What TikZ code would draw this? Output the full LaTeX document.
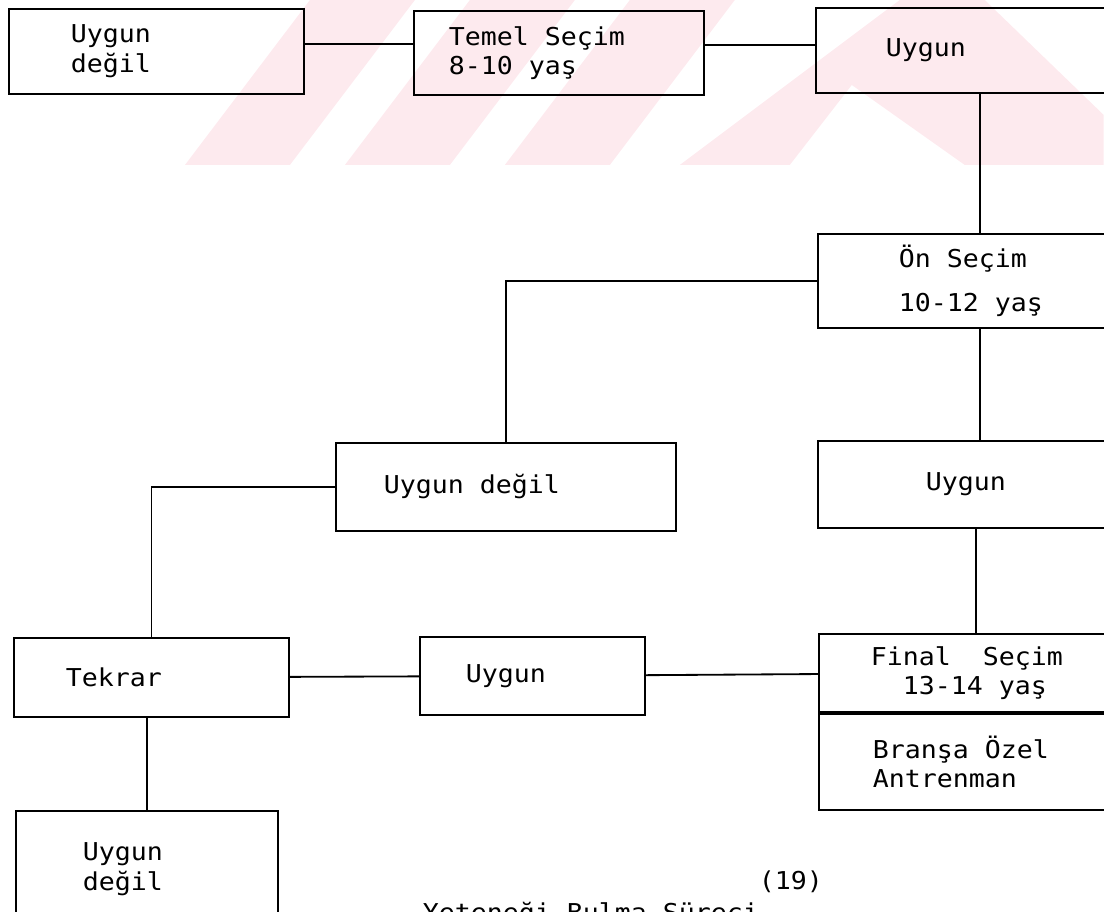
\documentclass[tikz,border=0pt]{standalone}
\usepackage{fontspec}
\setmonofont[FakeStretch=1.08]{DejaVu Sans Mono}
\usetikzlibrary{positioning}
\definecolor{wmark}{RGB}{253,234,238}
\newcommand{\monospace}{\spaceskip=\fontcharwd\font`\M\relax\xspaceskip=\spaceskip}
\tikzset{
  every picture/.style={font=\ttfamily\fontsize{17.5}{21}\selectfont, line width=1.3pt},
  box/.style={draw, anchor=north west, align=left, inner ysep=0pt, execute at begin node=\monospace},
}

\begin{document}
\begin{tikzpicture}
  \useasboundingbox (0,0) rectangle (27.6,-22.775);
  \clip (0,0) rectangle (27.6,-22.775);
  \begin{scope}[x=0.025cm, y=-0.025cm]
    \foreach \b in {185,345,505}
      \fill[wmark] (\b,165) -- ++(105,0) -- ++(125,-165) -- ++(-105,0) -- cycle;
    \fill[wmark] (680,165) -- (900,0) -- (985,0) -- (1104,115) -- (1104,165) -- (965,165) -- (852,85) -- (790,165) -- cycle;
  \end{scope}
  \node[box, minimum height=2.125cm, inner xsep=1.55cm, text width=4.275cm] (ud1) at (0.2,-0.2) {Uygun\\değil};
  \node[box, minimum height=2.1cm, inner xsep=0.875cm, text width=5.5cm] (temel) at (10.325,-0.25) {Temel Seçim\\8-10 yaş};
  \node[box, minimum height=2.125cm, inner xsep=1.75cm, text width=5cm] (uy1) at (20.375,-0.175) {Uygun};
  \node[box, minimum height=2.35cm, inner xsep=2.025cm, text width=4.45cm] (on) at (20.425,-5.825) {Ön Seçim\\[10pt]10-12 yaş};
  \node[box, minimum height=2.2cm, inner xsep=1.2cm, text width=6.1cm] (ud2) at (8.375,-11.05) {Uygun değil};
  \node[box, minimum height=2.175cm, inner xsep=2.7cm, text width=3.1cm] (uy2) at (20.425,-11.0) {Uygun};
  \node[box, minimum height=1.95cm, inner xsep=1.3cm, text width=5.9cm] (final) at (20.45,-15.825) {Final\ \ Seçim\\\hspace*{0.8cm}13-14 yaş};
  \node[box, minimum height=2.4cm, inner xsep=1.35cm, text width=5.8cm, below=0pt of final] (brans) {Branşa Özel\\Antrenman};
  \node[box, minimum height=1.975cm, inner xsep=1.3cm, text width=4.275cm] (tek) at (0.325,-15.925) {Tekrar};
  \node[box, minimum height=1.95cm, inner xsep=1.15cm, text width=3.325cm] (uy3) at (10.475,-15.9) {Uygun};
  \node[box, minimum height=2.9cm, inner xsep=1.675cm, text width=3.2cm] (ud3) at (0.375,-20.25) {Uygun\\değil};
  \node[anchor=base west, inner sep=0pt, execute at begin node=\monospace] (cap) at (10.55,-23.025) {Yeteneği Bulma Süreci\raisebox{0.8cm}{(19)}};
  \draw ([yshift=0.19cm]ud1.east) -- ([yshift=0.19cm]ud1.east -| temel.west);
  \draw ([yshift=0.2cm]temel.east) -- ([yshift=0.2cm]temel.east -| uy1.west);
  \draw ([xshift=-0.15cm]uy1.south) -- ([xshift=-0.15cm]uy1.south |- on.north);
  \draw (on.west) -| (ud2.north);
  \draw ([xshift=-0.2cm]on.south) -- ([xshift=-0.2cm]on.south |- uy2.north);
  \draw ([xshift=-0.3cm]uy2.south) -- ([xshift=-0.3cm]uy2.south |- final.north);
  \draw (ud2.west) -| (tek.north);
  \draw (tek) -- (uy3);
  \draw (uy3) -- (final);
  \draw (tek.south -| ud3.north) -- (ud3.north);
\end{tikzpicture}
\end{document}
